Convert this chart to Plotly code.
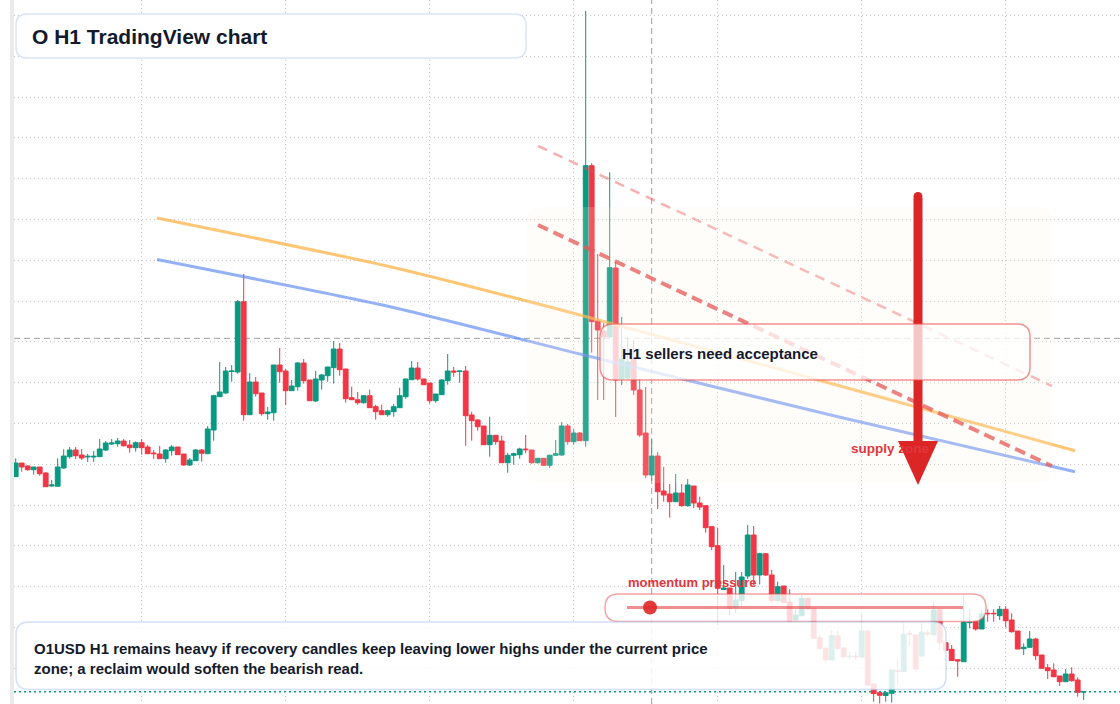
import plotly.graph_objects as go
import pandas as pd

# ---------------- data ----------------
opens = [0.2733, 0.2870, 0.2840, 0.2803, 0.2830, 0.2770, 0.2640, 0.2637, 0.2820, 0.2933,
         0.3000, 0.2950, 0.2930, 0.2930, 0.2933, 0.3000, 0.3060, 0.3063, 0.3090, 0.3050,
         0.3023, 0.3073, 0.3030, 0.2970, 0.2960, 0.2913, 0.2993, 0.3030, 0.2960, 0.2850,
         0.2893, 0.3000, 0.2963, 0.3200, 0.3533, 0.3570, 0.3785, 0.3780, 0.4483, 0.3353,
         0.3680, 0.3570, 0.3363, 0.3373, 0.3850, 0.3790, 0.3593, 0.3633, 0.3870, 0.3700,
         0.3490, 0.3700, 0.3743, 0.3823, 0.4010, 0.3810, 0.3523, 0.3503, 0.3473, 0.3543,
         0.3433, 0.3393, 0.3353, 0.3383, 0.3423, 0.3533, 0.3703, 0.3820, 0.3710, 0.3670,
         0.3493, 0.3553, 0.3693, 0.3790, 0.3785, 0.3790, 0.3350, 0.3300, 0.3240, 0.3053,
         0.3147, 0.3090, 0.2873, 0.2947, 0.2953, 0.3010, 0.3000, 0.2873, 0.2917, 0.2847,
         0.2947, 0.2950, 0.3240, 0.3083, 0.3170, 0.3093, 0.5843, 0.4290, 0.4190, 0.4133,
         0.4820, 0.3710, 0.3720, 0.3910, 0.3600, 0.3170, 0.2750, 0.2940, 0.2590, 0.2560,
         0.2483, 0.2570, 0.2443, 0.2640, 0.2470, 0.2443, 0.2233, 0.2043, 0.1605, 0.1620,
         0.1423, 0.1495, 0.1740, 0.2150, 0.1750, 0.1963, 0.1750, 0.1493, 0.1640, 0.1480,
         0.1300, 0.1343, 0.1517, 0.1417, 0.1125, 0.1017, 0.0900, 0.1140, 0.1020, 0.0933,
         0.0937, 0.0930, 0.1190, 0.0660, 0.0573, 0.0545, 0.0567, 0.0793, 0.0783, 0.1163,
         0.1150, 0.0940, 0.1170, 0.1155, 0.1405, 0.1073, 0.1007, 0.0903, 0.0883, 0.1273,
         0.1283, 0.1210, 0.1367, 0.1367, 0.1343, 0.1407, 0.1300, 0.1190, 0.1013, 0.1027,
         0.1110, 0.0950, 0.0823, 0.0800, 0.0740, 0.0683, 0.0760, 0.0700, 0.0580]

highs = [0.2917, 0.2870, 0.2850, 0.2830, 0.2830, 0.2780, 0.2700, 0.2917, 0.3007, 0.3030,
         0.3030, 0.3010, 0.2960, 0.2990, 0.3110, 0.3090, 0.3110, 0.3120, 0.3110, 0.3100,
         0.3087, 0.3110, 0.3050, 0.3000, 0.3040, 0.3010, 0.3050, 0.3030, 0.2960, 0.2920,
         0.3010, 0.3010, 0.3240, 0.3553, 0.3880, 0.3830, 0.3850, 0.4500, 0.4760, 0.3770,
         0.3730, 0.3570, 0.3430, 0.3850, 0.4020, 0.3810, 0.3700, 0.3880, 0.3910, 0.3700,
         0.3790, 0.3760, 0.3830, 0.4090, 0.4070, 0.3810, 0.3633, 0.3580, 0.3543, 0.3603,
         0.3453, 0.3453, 0.3403, 0.3460, 0.3623, 0.3710, 0.3890, 0.3880, 0.3710, 0.3670,
         0.3560, 0.3710, 0.3960, 0.3830, 0.3790, 0.3840, 0.3383, 0.3310, 0.3240, 0.3333,
         0.3147, 0.3143, 0.2973, 0.2973, 0.3023, 0.3150, 0.3000, 0.2917, 0.2917, 0.2953,
         0.3100, 0.3280, 0.3260, 0.3210, 0.3180, 0.7390, 0.5867, 0.4960, 0.4270, 0.5777,
         0.4880, 0.4330, 0.4130, 0.4100, 0.3720, 0.3630, 0.3110, 0.2980, 0.2833, 0.2660,
         0.2760, 0.2660, 0.2710, 0.2640, 0.2533, 0.2443, 0.2233, 0.2223, 0.1850, 0.1620,
         0.1780, 0.1780, 0.2250, 0.2240, 0.1973, 0.1970, 0.1800, 0.1683, 0.1640, 0.1607,
         0.1410, 0.1550, 0.1523, 0.1420, 0.1150, 0.1025, 0.1200, 0.1193, 0.1027, 0.0983,
         0.0983, 0.1367, 0.1205, 0.0667, 0.0573, 0.0573, 0.0800, 0.0917, 0.1267, 0.1200,
         0.1150, 0.1273, 0.1205, 0.1480, 0.1405, 0.1073, 0.1050, 0.0907, 0.1550, 0.1410,
         0.1283, 0.1400, 0.1407, 0.1407, 0.1440, 0.1440, 0.1367, 0.1190, 0.1067, 0.1190,
         0.1123, 0.0950, 0.0860, 0.0867, 0.0740, 0.0810, 0.0827, 0.0727, 0.0583]

lows = [0.2733, 0.2783, 0.2793, 0.2753, 0.2743, 0.2633, 0.2633, 0.2633, 0.2810, 0.2913,
        0.2910, 0.2900, 0.2880, 0.2880, 0.2933, 0.2990, 0.3050, 0.3033, 0.3033, 0.2973,
        0.2983, 0.2953, 0.2963, 0.2910, 0.2913, 0.2873, 0.2943, 0.2953, 0.2843, 0.2840,
        0.2893, 0.2883, 0.2963, 0.3093, 0.3533, 0.3563, 0.3683, 0.3763, 0.3293, 0.3353,
        0.3533, 0.3343, 0.3303, 0.3293, 0.3673, 0.3450, 0.3593, 0.3593, 0.3663, 0.3493,
        0.3480, 0.3603, 0.3683, 0.3663, 0.3743, 0.3473, 0.3503, 0.3453, 0.3463, 0.3423,
        0.3303, 0.3353, 0.3333, 0.3333, 0.3423, 0.3513, 0.3703, 0.3693, 0.3653, 0.3463,
        0.3473, 0.3553, 0.3653, 0.3733, 0.3673, 0.3043, 0.3093, 0.3193, 0.3053, 0.2933,
        0.3053, 0.2873, 0.2773, 0.2853, 0.2913, 0.2967, 0.2863, 0.2863, 0.2847, 0.2820,
        0.2947, 0.2943, 0.3053, 0.3053, 0.3090, 0.3033, 0.3973, 0.3500, 0.3500, 0.4117,
        0.3330, 0.3650, 0.3700, 0.3550, 0.3130, 0.2720, 0.2690, 0.2410, 0.2483, 0.2323,
        0.2483, 0.2433, 0.2433, 0.2420, 0.2400, 0.2173, 0.2000, 0.1250, 0.1605, 0.1350,
        0.1370, 0.1433, 0.1710, 0.1650, 0.1657, 0.1740, 0.1470, 0.1485, 0.1470, 0.1283,
        0.1300, 0.1340, 0.1400, 0.1115, 0.1000, 0.0867, 0.0900, 0.0993, 0.0917, 0.0907,
        0.0900, 0.0930, 0.0633, 0.0483, 0.0465, 0.0483, 0.0473, 0.0650, 0.0783, 0.1040,
        0.0783, 0.0940, 0.1133, 0.1140, 0.1007, 0.0993, 0.0893, 0.0733, 0.0883, 0.1217,
        0.1193, 0.1210, 0.1283, 0.1283, 0.1300, 0.1227, 0.1173, 0.1010, 0.0950, 0.1027,
        0.0900, 0.0817, 0.0710, 0.0727, 0.0640, 0.0683, 0.0683, 0.0533, 0.0500]

closes = [0.2870, 0.2830, 0.2803, 0.2830, 0.2763, 0.2633, 0.2650, 0.2830, 0.2940, 0.3000,
          0.2943, 0.2920, 0.2937, 0.2937, 0.3010, 0.3070, 0.3070, 0.3090, 0.3043, 0.3023,
          0.3073, 0.3023, 0.2963, 0.2963, 0.2913, 0.3000, 0.3030, 0.2953, 0.2850, 0.2900,
          0.3000, 0.2967, 0.3210, 0.3543, 0.3580, 0.3790, 0.3790, 0.4483, 0.3353, 0.3680,
          0.3563, 0.3363, 0.3380, 0.3850, 0.3783, 0.3593, 0.3640, 0.3870, 0.3693, 0.3493,
          0.3710, 0.3750, 0.3830, 0.4010, 0.3803, 0.3513, 0.3503, 0.3473, 0.3543, 0.3423,
          0.3383, 0.3353, 0.3393, 0.3433, 0.3543, 0.3710, 0.3820, 0.3710, 0.3653, 0.3493,
          0.3560, 0.3700, 0.3790, 0.3780, 0.3790, 0.3343, 0.3293, 0.3233, 0.3053, 0.3147,
          0.3083, 0.2873, 0.2947, 0.2963, 0.3010, 0.3003, 0.2873, 0.2917, 0.2847, 0.2947,
          0.2963, 0.3240, 0.3083, 0.3170, 0.3093, 0.5843, 0.4283, 0.4200, 0.4130, 0.4823,
          0.3700, 0.3910, 0.3880, 0.3600, 0.3150, 0.2750, 0.2940, 0.2583, 0.2550, 0.2483,
          0.2570, 0.2443, 0.2650, 0.2470, 0.2430, 0.2223, 0.2033, 0.1617, 0.1620, 0.1417,
          0.1500, 0.1730, 0.2150, 0.1750, 0.1963, 0.1750, 0.1493, 0.1633, 0.1477, 0.1290,
          0.1350, 0.1517, 0.1410, 0.1117, 0.1015, 0.0900, 0.1145, 0.1017, 0.0933, 0.0937,
          0.0933, 0.1190, 0.0650, 0.0565, 0.0547, 0.0573, 0.0800, 0.0787, 0.1157, 0.1157,
          0.0810, 0.1180, 0.1163, 0.1400, 0.1073, 0.0997, 0.0895, 0.0890, 0.1280, 0.1277,
          0.1210, 0.1360, 0.1363, 0.1363, 0.1407, 0.1293, 0.1183, 0.1010, 0.1027, 0.1110,
          0.0943, 0.0817, 0.0793, 0.0733, 0.0683, 0.0760, 0.0693, 0.0577, 0.0583]

# indicator curves (hours after first candle, price)
orange_hours = [23.55, 62.4, 94.05, 137.4, 176.55]
orange_price = [0.5320, 0.4833, 0.4350, 0.3640, 0.2993]
blue_hours = [23.55, 62.4, 94.05, 137.4, 176.55]
blue_price = [0.4905, 0.4433, 0.3960, 0.3327, 0.2783]
# resistance rays
ray_hours = [87.05, 172.7]
ray_upper = [0.6040, 0.3640]
ray_lower = [0.5250, 0.2840]

crosshair_hour = 106
crosshair_price = 0.4117

title_text = "O H1 TradingView chart"
box_text = "H1 sellers need acceptance"
zone_text = "supply zone"
momentum_text = "momentum pressure"
note_lines = ["O1USD H1 remains heavy if recovery candles keep leaving lower highs under the current price",
              "zone; a reclaim would soften the bearish read."]

# ---------------- figure ----------------
GREEN = "#089981"
RED = "#f23645"
INK = "#131a2b"
FONT = "Liberation Sans, Arial, sans-serif"

W, H, L = 1120, 704, 14
PW = W - L

start = pd.Timestamp("2024-05-06 03:00")
times = pd.date_range(start, periods=len(opens), freq="h")


def t(h):
    return start + pd.Timedelta(hours=h)


def px(x):
    return (x - L) / PW


def py(y):
    return 1 - y / H


def rrect(x0, y0, x1, y1, r):
    rx, ry = r / PW, r / H
    X0, X1, Y0, Y1 = px(x0), px(x1), py(y0), py(y1)
    return (f"M{X0+rx},{Y0} L{X1-rx},{Y0} Q{X1},{Y0} {X1},{Y0-ry} "
            f"L{X1},{Y1+ry} Q{X1},{Y1} {X1-rx},{Y1} L{X0+rx},{Y1} "
            f"Q{X0},{Y1} {X0},{Y1+ry} L{X0},{Y0-ry} Q{X0},{Y0} {X0+rx},{Y0} Z")


fig = go.Figure()
fig.add_trace(go.Candlestick(
    x=times, open=opens, high=highs, low=lows, close=closes,
    increasing=dict(line=dict(color=GREEN, width=1), fillcolor=GREEN),
    decreasing=dict(line=dict(color=RED, width=1), fillcolor=RED),
    whiskerwidth=0, showlegend=False, hoverinfo="skip"))

fig.add_trace(go.Scatter(x=[t(h) for h in orange_hours], y=orange_price, mode="lines",
                         line=dict(color="rgba(255,176,64,0.72)", width=3, shape="spline", smoothing=0.6),
                         hoverinfo="skip", showlegend=False))
fig.add_trace(go.Scatter(x=[t(h) for h in blue_hours], y=blue_price, mode="lines",
                         line=dict(color="rgba(90,135,240,0.65)", width=3, shape="spline", smoothing=0.6),
                         hoverinfo="skip", showlegend=False))
fig.add_trace(go.Scatter(x=[t(h) for h in ray_hours], y=ray_upper, mode="lines",
                         line=dict(color="rgba(235,80,80,0.45)", width=2.5, dash="10px,7px"),
                         hoverinfo="skip", showlegend=False))
fig.add_trace(go.Scatter(x=[t(h) for h in ray_hours], y=ray_lower, mode="lines",
                         line=dict(color="rgba(225,60,60,0.75)", width=4, dash="11px,6px"),
                         hoverinfo="skip", showlegend=False))

shapes = []
# left gutter strip
shapes.append(dict(type="rect", xref="paper", yref="paper", x0=px(10), x1=px(14), y0=0, y1=1,
                   fillcolor="#ebebeb", line=dict(width=0), layer="below"))
# crosshair
shapes.append(dict(type="line", xref="paper", yref="y", x0=0, x1=1, y0=crosshair_price, y1=crosshair_price,
                   line=dict(color="#9e9e9e", width=1, dash="6px,4px"), layer="below"))
shapes.append(dict(type="line", xref="x", yref="paper", x0=t(crosshair_hour), x1=t(crosshair_hour), y0=0, y1=1,
                   line=dict(color="#9e9e9e", width=1, dash="6px,4px"), layer="below"))
# last price line
shapes.append(dict(type="line", xref="paper", yref="y", x0=0, x1=1, y0=closes[-1], y1=closes[-1],
                   line=dict(color=GREEN, width=1.5, dash="2px,3px"), layer="below"))
# supply zone
shapes.append(dict(type="path", xref="paper", yref="paper", path=rrect(527, 207, 1052, 483, 14),
                   fillcolor="rgba(255,240,225,0.16)", line=dict(width=0), layer="above"))
# arrow
shapes.append(dict(type="line", xref="paper", yref="paper", x0=px(918), x1=px(918), y0=py(198), y1=py(446),
                   line=dict(color="#dc2626", width=9), layer="above"))
shapes.append(dict(type="path", xref="paper", yref="paper",
                   path=f"M{px(898)},{py(441)} L{px(938)},{py(441)} L{px(918)},{py(485)} Z",
                   fillcolor="#dc2626", line=dict(width=0), layer="above"))
shapes.append(dict(type="circle", xref="paper", yref="paper", x0=px(913.5), x1=px(922.5), y0=py(192), y1=py(201),
                   fillcolor="#dc2626", line=dict(width=0), layer="above"))
# sellers box
shapes.append(dict(type="path", xref="paper", yref="paper", path=rrect(600, 324, 1030, 380, 13),
                   fillcolor="rgba(255,255,255,0.74)", line=dict(color="rgba(236,72,72,0.6)", width=1.5),
                   layer="above"))
# momentum pill
shapes.append(dict(type="path", xref="paper", yref="paper", path=rrect(605, 594, 986, 621.5, 13.5),
                   fillcolor="rgba(255,255,255,0.8)", line=dict(color="rgba(236,72,72,0.5)", width=1.5),
                   layer="above"))
shapes.append(dict(type="line", xref="paper", yref="paper", x0=px(627), x1=px(963), y0=py(607.5), y1=py(607.5),
                   line=dict(color="rgba(225,50,50,0.55)", width=3), layer="above"))
shapes.append(dict(type="circle", xref="paper", yref="paper", x0=px(643), x1=px(657), y0=py(600.5), y1=py(614.5),
                   fillcolor="rgba(222,38,38,0.9)", line=dict(width=0), layer="above"))
# bottom note box
shapes.append(dict(type="path", xref="paper", yref="paper", path=rrect(16, 622, 946, 689.5, 13),
                   fillcolor="rgba(255,255,255,0.86)", line=dict(color="rgba(170,198,240,0.55)", width=1.5),
                   layer="above"))
# title box
shapes.append(dict(type="path", xref="paper", yref="paper", path=rrect(16, 14, 526, 58, 11),
                   fillcolor="#ffffff", line=dict(color="rgba(190,212,242,0.6)", width=1.5),
                   layer="above"))

annotations = [
    dict(text=f"<b>{title_text}</b>", x=px(30), y=py(36), font=dict(size=21, color=INK, family=FONT)),
    dict(text=f"<b>{box_text}</b>", x=px(620), y=py(353), font=dict(size=15, color=INK, family=FONT)),
    dict(text=f"<b>{zone_text}</b>", x=px(849), y=py(448), font=dict(size=13.5, color="#e0363c", family=FONT)),
    dict(text=f"<b>{momentum_text}</b>", x=px(625.5), y=py(582), font=dict(size=13, color="#e0363c", family=FONT)),
    dict(text="<b>" + "<br>".join(note_lines) + "</b>", x=px(32), y=py(658),
         font=dict(size=15, color=INK, family=FONT), align="left"),
]
for a in annotations:
    a.update(xref="paper", yref="paper", xanchor="left", yanchor="middle", showarrow=False)

GRID = "#c8c8c8"
fig.update_layout(
    width=W, height=H, margin=dict(l=L, r=0, t=0, b=0),
    paper_bgcolor="#ffffff", plot_bgcolor="#ffffff",
    showlegend=False, boxgap=0.2, boxgroupgap=0,
    shapes=shapes, annotations=annotations,
    font=dict(family=FONT),
    xaxis=dict(range=[t(-0.283), t(184.05)], rangeslider=dict(visible=False),
               showgrid=True, gridcolor=GRID, griddash="1px,3px", gridwidth=1,
               tick0=t(21), dtick=86400000, showticklabels=False, ticks="",
               zeroline=False, showline=False),
    yaxis=dict(range=[0.046, 0.750], showgrid=True, gridcolor=GRID, griddash="1px,3px", gridwidth=1,
               tick0=0.2857, dtick=0.0408, showticklabels=False, ticks="",
               zeroline=False, showline=False),
)

fig.write_html("out.html")
